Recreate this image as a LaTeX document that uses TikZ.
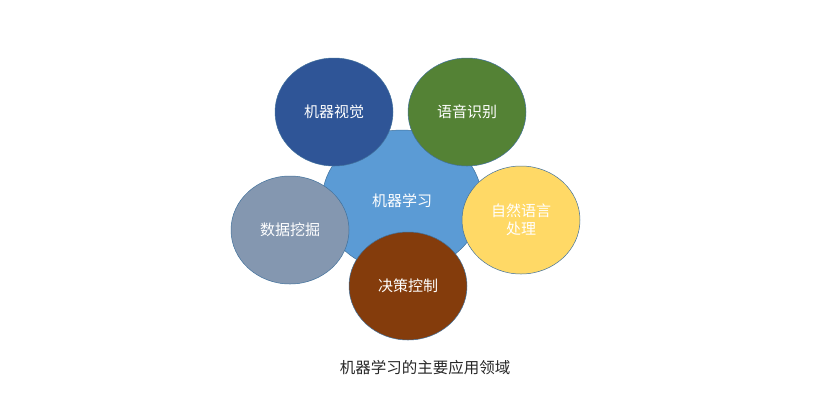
\documentclass[tikz,border=0pt]{standalone}
\usepackage{fontspec}
\setmainfont{Noto Sans CJK SC}
\usetikzlibrary{shapes.geometric}
\definecolor{hubblue}{HTML}{5B9BD5}
\definecolor{visionblue}{HTML}{2F5597}
\definecolor{speechgreen}{HTML}{548235}
\definecolor{nlpyellow}{HTML}{FFD966}
\definecolor{mininggray}{HTML}{8497B0}
\definecolor{controlbrown}{HTML}{843C0C}
\definecolor{rimblue}{HTML}{41719C}
\begin{document}
\begin{tikzpicture}[x = 1pt, y = -1pt, font = \fontsize{15}{18}\selectfont, every node/.style = { ellipse, draw = rimblue, line width = 0.5pt, text = white, align = center, inner sep = 0pt, minimum width = 118pt, minimum height = 108pt }]
  \useasboundingbox (0, 0) rectangle (827, 400);

  \node [fill = hubblue, minimum width = 160pt, minimum height = 142pt] (learning) at (402, 201) {机器学习};
  \node [fill = visionblue] (vision) at (334, 112) {机器视觉};
  \node [fill = speechgreen] (speech) at (467, 112) {语音识别};
  \node [fill = nlpyellow] (nlp) at (521, 220) {自然语言\\处理};
  \node [fill = mininggray] (mining) at (290, 230) {数据挖掘};
  \node [fill = controlbrown] (control) at (408, 286) {决策控制};

  \node [draw = none, text = black!85, minimum width = 0pt, minimum height = 0pt, rectangle, font = \fontsize{15.5}{18}\selectfont] (caption) at (425, 368) {机器学习的主要应用领域};
\end{tikzpicture}
\end{document}
